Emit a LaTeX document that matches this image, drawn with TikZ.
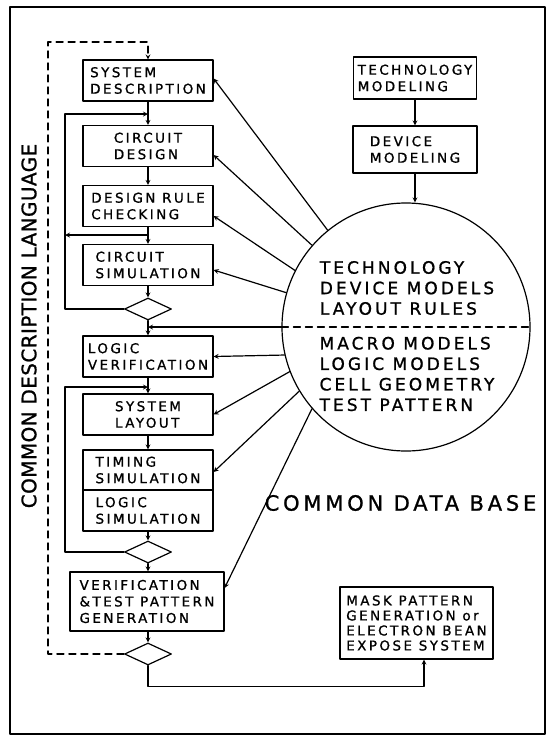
\documentclass[tikz,border=0pt]{standalone}
\usepackage{fontspec}
\newfontfamily\plotfont{DejaVu Sans}[LetterSpace=18,FakeBold=1]
\newfontfamily\plotfontv{DejaVu Sans}[LetterSpace=2,FakeBold=1]
\usetikzlibrary{shapes.geometric}
\begin{document}
\begin{tikzpicture}[>=stealth,x=1pt,y=-1pt,line width=1.2pt,line cap=round,line join=round,
    stage/.style={draw,rectangle,minimum width=130pt,minimum height=41pt,inner sep=1pt,align=left,
      font=\plotfont\fontsize{13.5}{16.5}\selectfont},
    decide/.style={draw,diamond,minimum width=47pt,minimum height=22pt,inner sep=0pt},
    dbtext/.style={align=left,font=\plotfont\fontsize{17}{20.5}\selectfont},
    cdlline/.style={dash pattern=on 7pt off 5pt}]
  \path[fill=white] (0,0) rectangle (554,737);
  \useasboundingbox (0,0) rectangle (554,737);
  \draw (10,7) rectangle (545,734);
  % design flow
  \node[stage] (sd) at (148,80.5) {SYSTEM\\DESCRIPTION};
  \node[stage] (cd) at (148,146) {CIRCUIT\\DESIGN};
  \node[stage] (drc) at (148,206) {DESIGN RULE\\CHECKING};
  \node[stage] (cs) at (148,265) {CIRCUIT\\SIMULATION};
  \node[decide] (dia1) at (148,309) {};
  \node[stage] (lv) at (148,356.5) {LOGIC\\VERIFICATION};
  \node[stage] (sl) at (148,414.5) {SYSTEM\\LAYOUT};
  \node[stage,minimum height=40pt] (ts) at (148,470) {TIMING\\SIMULATION};
  \node[stage] (ls) at (148,510.5) {LOGIC\\SIMULATION};
  \node[decide] (dia2) at (148,552) {};
  \node[stage,minimum width=154pt,minimum height=59pt] (vt) at (147,601.5) {VERIFICATION\\\&TEST PATTERN\\GENERATION};
  \node[decide] (dia3) at (148,654) {};
  \node[stage,minimum width=153pt,minimum height=72pt,font=\plotfont\fontsize{13.5}{15}\selectfont] (mask) at (416.5,623)
    {MASK PATTERN\\GENERATION or\\ELECTRON BEAN\\EXPOSE SYSTEM};
  % technology side
  \node[stage,minimum width=123pt,minimum height=42pt] (tm) at (415,78) {TECHNOLOGY\\MODELING};
  \node[stage,minimum width=124pt,minimum height=47pt] (dm) at (415,149.5) {DEVICE\\MODELING};
  \node[draw,circle,minimum size=248pt,inner sep=0pt] (db) at (406,327) {};
  \node[dbtext] (dbup) at (407,288) {TECHNOLOGY\\DEVICE MODELS\\LAYOUT RULES};
  \node[dbtext] (dblow) at (407,374) {MACRO MODELS\\LOGIC MODELS\\CELL GEOMETRY\\TEST PATTERN};
  \node[font=\plotfont\fontsize{21}{24}\selectfont] (cdb) at (400.5,503) {COMMON DATA BASE};
  \node[rotate=90,font=\plotfontv\fontsize{20}{24}\selectfont] (cdl) at (29,326) {COMMON DESCRIPTION LANGUAGE};
  % junctions
  \coordinate (j1) at (148,114);
  \coordinate (j2) at (148,235);
  \coordinate (j3) at (148,387);
  \coordinate (lp1) at (65,114);
  \coordinate (lp2) at (65,387);
  \coordinate (dl) at (48,42);
  % flow connectors
  \draw[->] (sd) -- (cd);
  \draw[->] (cd) -- (drc);
  \draw[->] (drc) -- (cs);
  \draw[->] (cs) -- (dia1.north);
  \draw[->] (dia1.south) -- (lv);
  \draw[->] (lv) -- (sl);
  \draw[->] (sl) -- (ts);
  \draw[->] (ls) -- (dia2.north);
  \draw[->] (dia2.south) -- (dia2.south |- vt.north);
  \draw[->] (dia3.north |- vt.south) -- (dia3.north);
  \draw[->] (tm) -- (dm);
  \draw[->] (dm.south) -- (dm.south |- db.north);
  % loops
  \draw[->] (dia1.west) -| (lp1) -- (j1);
  \draw[->] (j2) -- (lp1 |- j2);
  \draw[->] (dia2.west) -| (lp2) -- (j3);
  \draw[->] (dia3.south) -- ++(0,21) -| ([xshift=7.5pt]mask.south);
  \draw[cdlline,->] (dia3.west) -| (dl) -| (sd.north);
  % data base links
  \draw[cdlline] (db.west) -- (db.east);
  \draw[->] (db.west) -- (dia1.south |- db.west);
  \draw[->] (db.129) -- ([yshift=2pt]sd.east);
  \draw[->] (db.139) -- ([yshift=-9pt]cd.east);
  \draw[->] (db.153) -- ([yshift=-10pt]drc.east);
  \draw[->] (db.164) -- ([yshift=-5pt]cs.east);
  \draw[->] (db.193) -- (lv.east);
  \draw[->] (db.201) -- (sl.east);
  \draw[->] (db.211) -- ([yshift=-2pt]ts.east);
  \draw[->] (db.221) -- ([yshift=13.5pt]vt.east);
\end{tikzpicture}
\end{document}
